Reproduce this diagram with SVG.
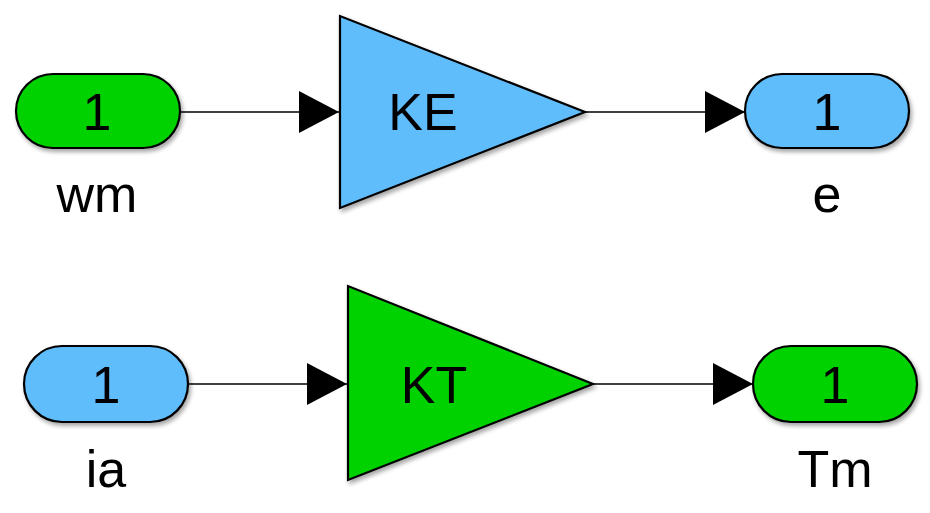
<svg xmlns="http://www.w3.org/2000/svg" width="930" height="513" viewBox="0 0 930 513">
<defs>
<style>
.blk{stroke:#000;stroke-width:2.2;stroke-linejoin:miter;filter:url(#sh)}
.g{fill:#00D200}
.b{fill:#61BDFC}
.t{font-family:"Liberation Sans",Arial,sans-serif;font-size:52px;fill:#000;text-anchor:middle}
.ln{stroke:#000;stroke-width:1.6;fill:none}
</style>
<filter id="sh" x="-10%" y="-10%" width="130%" height="130%">
<feDropShadow dx="2" dy="3" stdDeviation="2" flood-color="#000" flood-opacity="0.35"/>
</filter>
<marker id="ah" viewBox="0 0 40 42" refX="40" refY="21" markerWidth="40" markerHeight="42" markerUnits="userSpaceOnUse" orient="auto">
<path d="M0,0 L40,21 L0,42 Z" fill="#000"/>
</marker>
</defs>
<rect width="930" height="513" fill="#fff"/>
<g id="connectors">
<path class="ln" d="M180,112 H339" marker-end="url(#ah)"/>
<path class="ln" d="M585,112 H745" marker-end="url(#ah)"/>
<path class="ln" d="M188,384 H347" marker-end="url(#ah)"/>
<path class="ln" d="M593,384 H753" marker-end="url(#ah)"/>
</g>
<g id="wm">
<rect class="blk g" x="16" y="74" width="164" height="74" rx="37"/>
<text class="t" x="97" y="130">1</text>
<text class="t" x="97" y="212">wm</text>
</g>
<g id="KE">
<path class="blk b" d="M340,16 L340,208 L585,112 Z"/>
<text class="t" x="423" y="130">KE</text>
</g>
<g id="e">
<rect class="blk b" x="745" y="74" width="164" height="74" rx="37"/>
<text class="t" x="827" y="130">1</text>
<text class="t" x="827" y="212">e</text>
</g>
<g id="ia">
<rect class="blk b" x="24" y="346" width="164" height="76" rx="38"/>
<text class="t" x="106" y="403">1</text>
<text class="t" x="106" y="487">ia</text>
</g>
<g id="KT">
<path class="blk g" d="M348,286 L348,480 L593,384 Z"/>
<text class="t" x="434" y="403">KT</text>
</g>
<g id="Tm">
<rect class="blk g" x="753" y="346" width="164" height="76" rx="38"/>
<text class="t" x="835" y="403">1</text>
<text class="t" x="835" y="487">Tm</text>
</g>
</svg>
